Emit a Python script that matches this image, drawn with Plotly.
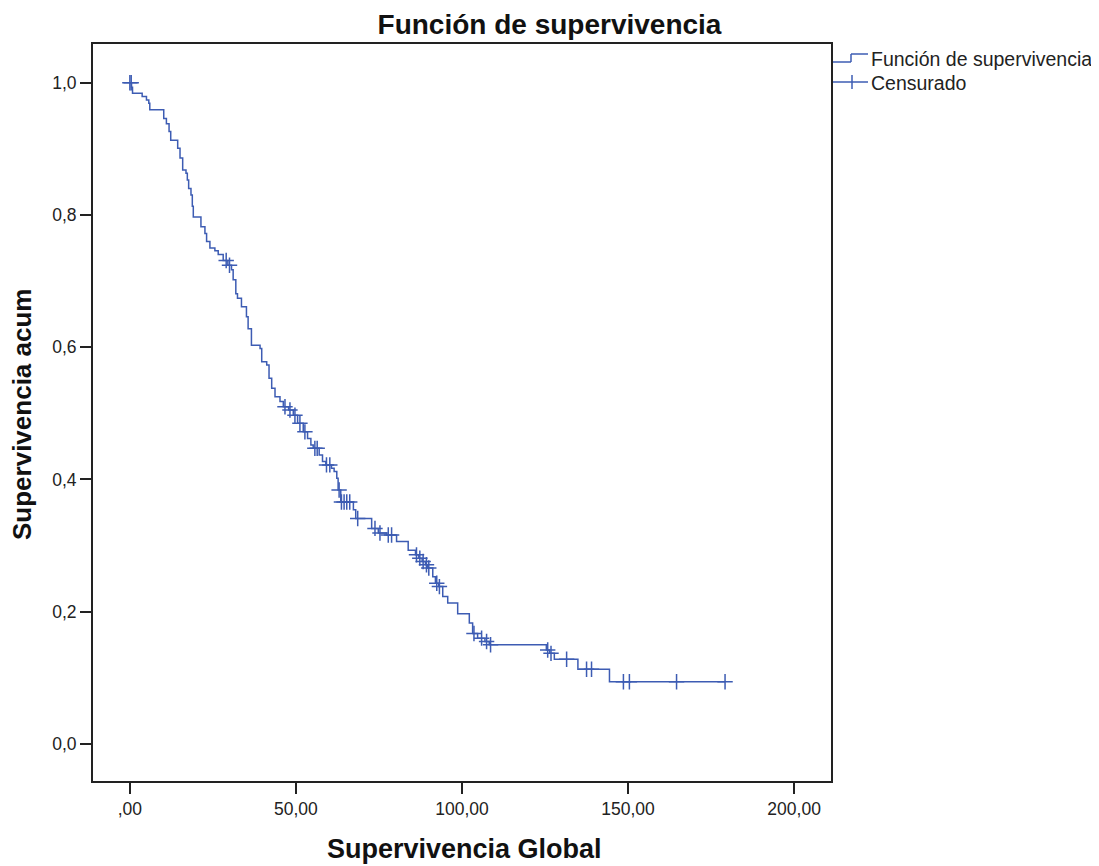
import numpy as np
import plotly.graph_objects as go

# Kaplan-Meier curve: event times and survival after each event
event_times = [0.5, 0.8, 3.7, 5.0, 5.7, 6.0, 10.2, 11.0, 11.8, 12.3, 14.4, 15.1, 15.9, 16.9,
               17.3, 17.7, 18.4, 18.8, 19.1, 21.4, 22.6, 23.1, 24.1, 25.6, 26.6, 28.1, 29.5,
               30.6, 31.1, 31.9, 32.4, 33.6, 35.1, 35.6, 36.6, 39.2, 39.7, 41.2, 41.9, 42.7,
               43.7, 45.2, 46.2, 47.8, 49.2, 50.5, 52.2, 53.5, 54.5, 55.2, 57.0, 58.0, 59.0,
               60.7, 61.5, 62.3, 62.7, 63.5, 67.3, 68.0, 72.8, 74.8, 77.3, 80.3, 83.8, 86.0,
               87.0, 88.0, 89.0, 89.7, 91.2, 92.0, 93.0, 94.2, 95.7, 98.7, 102.2, 103.2,
               104.7, 106.9, 108.2, 125.4, 126.4, 127.8, 134.9, 144.4]
survival = [0.993, 0.984, 0.979, 0.974, 0.969, 0.959, 0.946, 0.938, 0.926, 0.913, 0.901, 0.886,
            0.868, 0.863, 0.853, 0.840, 0.830, 0.813, 0.797, 0.782, 0.772, 0.760, 0.750, 0.746,
            0.740, 0.731, 0.724, 0.717, 0.702, 0.681, 0.674, 0.661, 0.646, 0.628, 0.603, 0.598,
            0.578, 0.573, 0.553, 0.538, 0.525, 0.518, 0.510, 0.505, 0.497, 0.485, 0.472, 0.462,
            0.452, 0.447, 0.437, 0.427, 0.422, 0.417, 0.412, 0.402, 0.384, 0.366, 0.354, 0.341,
            0.326, 0.319, 0.316, 0.306, 0.293, 0.286, 0.281, 0.276, 0.271, 0.266, 0.253, 0.243,
            0.238, 0.223, 0.213, 0.197, 0.183, 0.167, 0.160, 0.155, 0.150, 0.142, 0.137, 0.128,
            0.113, 0.094]
censor_times = [0.0, 0.4, 29.0, 30.0, 46.7, 48.2, 49.7, 51.2, 52.7, 55.7, 56.4, 59.2, 60.2,
                63.0, 63.7, 64.5, 65.3, 66.2, 68.6, 73.8, 75.3, 77.8, 78.8, 86.3, 87.3, 88.3,
                89.3, 90.0, 92.4, 93.2, 103.6, 105.9, 107.4, 108.6, 125.8, 126.8, 131.5, 137.5,
                139.0, 148.6, 150.4, 164.6, 179.2]

x_tickvals = [0, 50, 100, 150, 200]
x_ticktext = [",00", "50,00", "100,00", "150,00", "200,00"]
y_tickvals = [0.0, 0.2, 0.4, 0.6, 0.8, 1.0]
y_ticktext = ["0,0", "0,2", "0,4", "0,6", "0,8", "1,0"]

title_text = "Función de supervivencia"
x_title = "Supervivencia Global"
y_title = "Supervivencia acum"
legend_names = ["Función de supervivencia", "Censurado"]

FONT = "Liberation Sans, Arial"
BLUE = "#3d5cb3"
OFF = 8                      # page offset of the figure
W, H = 1099 - OFF, 866 - OFF  # figure size
L, R, T, B = 93, 831, 44, 781  # plot area on the page

ev = np.array(event_times)
sv = np.array(survival)
last_t = max(censor_times)
step_x = [0.0] + event_times + [last_t]
step_y = [1.0] + survival + [survival[-1]]

idx = np.searchsorted(ev, np.array(censor_times), side="right") - 1
censor_y = [1.0 if i < 0 else float(sv[i]) for i in idx]

fig = go.Figure()
fig.add_trace(go.Scatter(x=step_x, y=step_y, mode="lines", line=dict(color=BLUE, width=1.5, shape="hv"),
                         name=legend_names[0], showlegend=False, hoverinfo="skip"))
fig.add_trace(go.Scatter(x=censor_times, y=censor_y, mode="markers",
                         marker=dict(symbol="cross-thin", size=11, line=dict(color=BLUE, width=1.5)),
                         name=legend_names[1], showlegend=False))

def px(x):
    return (x - L) / (R - L)

def py(y):
    return (B - y) / (B - T)

shapes = [
    dict(type="line", xref="paper", yref="paper", x0=px(833), x1=px(851), y0=py(62), y1=py(62),
         line=dict(color=BLUE, width=1.5)),
    dict(type="line", xref="paper", yref="paper", x0=px(851), x1=px(851), y0=py(62), y1=py(54),
         line=dict(color=BLUE, width=1.5)),
    dict(type="line", xref="paper", yref="paper", x0=px(851), x1=px(868), y0=py(54), y1=py(54),
         line=dict(color=BLUE, width=1.5)),
    dict(type="line", xref="paper", yref="paper", x0=px(833), x1=px(868), y0=py(82), y1=py(82),
         line=dict(color=BLUE, width=1.5)),
    dict(type="line", xref="paper", yref="paper", x0=px(852), x1=px(852), y0=py(75), y1=py(89),
         line=dict(color=BLUE, width=1.5)),
]
annotations = [
    dict(text=legend_names[0], xref="paper", yref="paper", x=px(869), y=py(59), xanchor="left",
         yanchor="middle", showarrow=False, font=dict(family=FONT, size=19.5, color="#222")),
    dict(text=legend_names[1], xref="paper", yref="paper", x=px(869), y=py(83), xanchor="left",
         yanchor="middle", showarrow=False, font=dict(family=FONT, size=19.5, color="#222")),
    dict(text=x_title, xref="paper", yref="paper", x=px(464), y=py(849), xanchor="center",
         yanchor="middle", showarrow=False, font=dict(family=FONT, size=27, color="#111", weight="bold")),
    dict(text=y_title, xref="paper", yref="paper", x=px(22), y=py(415), xanchor="center",
         yanchor="middle", textangle=-90, showarrow=False,
         font=dict(family=FONT, size=26, color="#111", weight="bold")),
]

axis_common = dict(showline=True, linecolor="#222", linewidth=2, mirror=True, ticks="outside",
                   ticklen=11, tickwidth=2, tickcolor="#222", showgrid=False, zeroline=False,
                   tickfont=dict(family=FONT, size=17.5, color="#222"))

fig.update_layout(
    width=W, height=H, autosize=False,
    margin=dict(l=L - OFF, r=W + OFF - R, t=T - OFF, b=H + OFF - B, pad=0),
    paper_bgcolor="white", plot_bgcolor="white",
    title=dict(text=title_text, x=(549.5 - OFF) / W, xref="container", xanchor="center",
               y=1 - (24 - OFF) / H, yanchor="middle", yref="container",
               font=dict(family=FONT, size=28, color="#111", weight="bold")),
    xaxis=dict(range=[-11.1, 211.1], tickvals=x_tickvals, ticktext=x_ticktext, **axis_common),
    yaxis=dict(range=[-0.056, 1.0585], tickvals=y_tickvals, ticktext=y_ticktext, **axis_common),
    shapes=shapes, annotations=annotations, showlegend=False,
)

fig.write_html("out.html")
